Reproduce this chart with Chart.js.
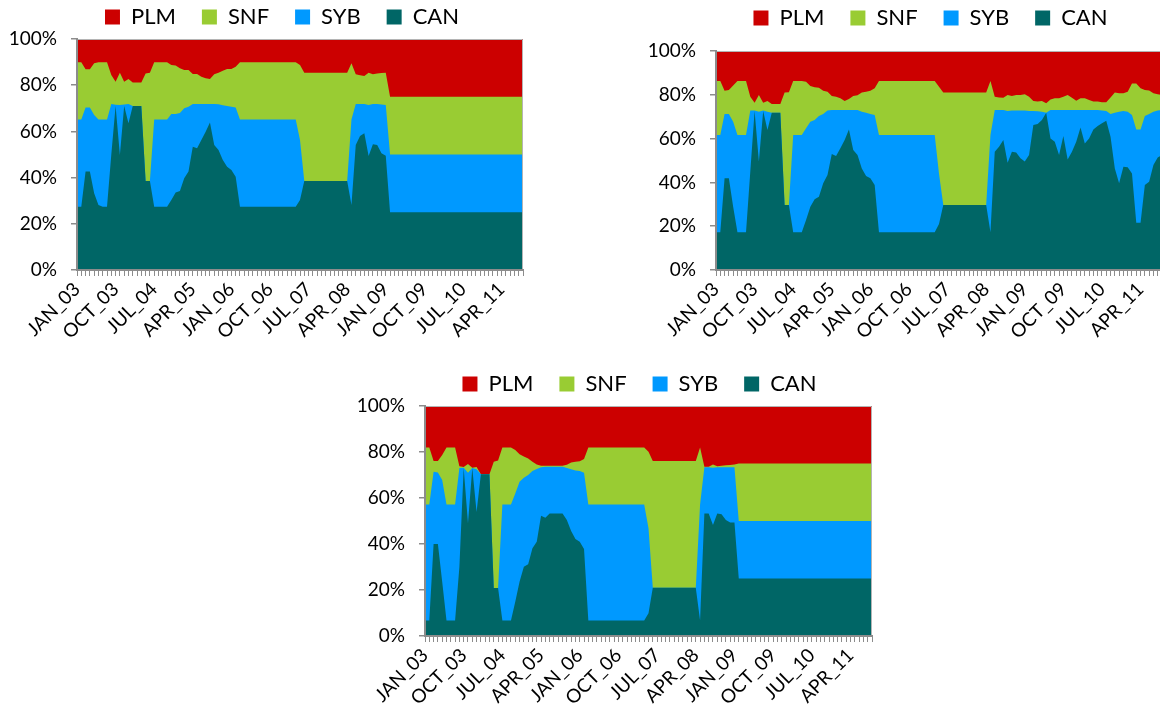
<!DOCTYPE html>
<html>
<head>
<meta charset="utf-8">
<script src="https://cdn.jsdelivr.net/npm/chart.js@4.4.1/dist/chart.umd.min.js"></script>
<style>
html, body { margin: 0; padding: 0; background: #fff; overflow: hidden; width: 1160px; height: 719px; }
.box { position: absolute; }
</style>
</head>
<body>
<div class="box" style="left:0px; top:-20px; width:565px; height:370px;"><canvas id="c1"></canvas></div>
<div class="box" style="left:640px; top:-19px; width:560px; height:369px;"><canvas id="c2"></canvas></div>
<div class="box" style="left:345px; top:347px; width:560px; height:369px;"><canvas id="c3"></canvas></div>
<script>
// Categorias (meses JAN_03 .. SEP_11)
var MONTHS = ['JAN','FEB','MAR','APR','MAY','JUN','JUL','AUG','SEP','OCT','NOV','DEC'];
var YEARS = ['03','04','05','06','07','08','09','10','11'];
var categories = [];
YEARS.forEach(function(y){ MONTHS.forEach(function(m){ categories.push(m + '_' + y); }); });
categories = categories.slice(0, 105);

// Etiquetas visiveis no eixo x
var tickLabels = ['JAN_03','OCT_03','JUL_04','APR_05','JAN_06','OCT_06','JUL_07','APR_08','JAN_09','OCT_09','JUL_10','APR_11'];
var yTicks = [0, 20, 40, 60, 80, 100];

// ---- Grafico 1 (quotas em %) ----
var can1 = [27.4,27.4,42.6,42.6,33.2,28.1,27.4,27.4, 50.0,71.0,49.8,71.0,63.5,71.0,71.0,71.0,
  38.5,38.5,27.4,27.4,27.4,27.4, 30.3,33.6,34.2,39.7,42.6,53.4,52.7,56.3,59.9,63.8,54.1,51.9,47.6,44.7,43.3,40.4,
  27.4,27.4,27.4,27.4,27.4,27.4,27.4,27.4,27.4,27.4,27.4,27.4,27.4,27.4, 30.3,
  38.5,38.5,38.5,38.5,38.5,38.5,38.5,38.5,38.5,38.5,38.5,
  28.1,54.1,58.0,59.2,49.4,54.4,54.1,50.5,49.5,
  25,25,25,25,25,25,25,25,25,25,25,25,25,25,25,25,25,25,25,25,25,25,25,25,25,25,25,25,25,25,25,25];
var syb1 = [37.8,37.8,27.7,27.7,33.9,37.1,37.8,37.8, 21.9,0.5,21.6,0.6,8.4,0,0,0,
  0,0,37.8,37.8,37.8,37.8, 37.2,33.9,33.8,30.3,28.1,18.5,19.2,15.6,12.0,8.1,17.8,19.8,23.7,26.3,27.4,29.9,
  37.8,37.8,37.8,37.8,37.8,37.8,37.8,37.8,37.8,37.8,37.8,37.8,37.8,37.8, 26.0,
  0,0,0,0,0,0,0,0,0,0,0,
  37.1,17.8,13.9,12.7,22.0,17.5,17.8,21.1,21.9,
  25,25,25,25,25,25,25,25,25,25,25,25,25,25,25,25,25,25,25,25,25,25,25,25,25,25,25,25,25,25,25,25];
var snf1 = [24.7,24.7,16.6,16.6,22.4,24.7,24.7,24.7, 12.5,10.0,14.0,9.9,10.8,10.2,10.2,10.2,
  46.6,46.9,24.7,24.7,24.7,24.7, 21.2,21.0,19.3,16.6,15.9,12.9,12.9,11.8,11.1,10.8,12.8,13.7,15.0,16.0,16.3,17.7,
  24.7,24.7,24.7,24.7,24.7,24.7,24.7,24.7,24.7,24.7,24.7,24.7,24.7,24.7, 32.4,
  46.9,46.9,46.9,46.9,46.9,46.9,46.9,46.9,46.9,46.9,46.9,
  24.3,12.8,12.4,12.1,14.0,12.8,13.2,13.7,14.0,
  25,25,25,25,25,25,25,25,25,25,25,25,25,25,25,25,25,25,25,25,25,25,25,25,25,25,25,25,25,25,25,25];
var plm1 = [10.1,10.1,13.1,13.1,10.5,10.1,10.1,10.1, 15.6,18.5,14.6,18.5,17.3,18.8,18.8,18.8,
  14.9,14.6,10.1,10.1,10.1,10.1, 11.3,11.5,12.7,13.4,13.4,15.2,15.2,16.3,17.0,17.3,15.3,14.6,13.7,13.0,13.0,12.0,
  10.1,10.1,10.1,10.1,10.1,10.1,10.1,10.1,10.1,10.1,10.1,10.1,10.1,10.1, 11.3,
  14.6,14.6,14.6,14.6,14.6,14.6,14.6,14.6,14.6,14.6,14.6,
  10.5,15.3,15.7,16.0,14.6,15.3,14.9,14.7,14.6,
  25,25,25,25,25,25,25,25,25,25,25,25,25,25,25,25,25,25,25,25,25,25,25,25,25,25,25,25,25,25,25,25];

// ---- Grafico 2 ----
var can2 = [17.2,17.2,41.9,41.9,28.9,17.2,17.2,17.2, 45.0,72.6,49.5,72.6,63.9,71.8,71.8,71.8,
  29.7,29.7,17.2,17.2,17.2, 22.8,28.9,32.3,33.5,39.6,43.4,53.0,52.1,55.6,59.4,64.2,54.8,52.5,46.4,42.9,41.9,38.8,
  17.2,17.2,17.2,17.2,17.2,17.2,17.2,17.2,17.2,17.2,17.2,17.2,17.2,17.2, 21.0,
  29.7,29.7,29.7,29.7,29.7,29.7,29.7,29.7,29.7,29.7,29.7,
  17.2,54.0,56.3,59.4,49.0,54.0,53.6,51.0,49.5,52.5,66.2,66.7,68.5,71.8,60.1,58.6,52.5,61.2,50.5,54.0,
  58.6,65.1,57.8,60.1,64.2,65.8,67.0,68.2,60.9,46.4,39.6,47.2,46.9,44.1,21.6,21.6,38.8,40.3,47.9,51.4,52.5];
var syb2 = [44.4,44.4,29.3,29.3,38.8,44.4,44.4,44.4, 27.8,0.2,22.8,0.2,8.4,0,0,0,
  0,0,44.4,44.4,44.4, 41.9,38.8,36.2,36.8,31.6,29.4,20.1,21.0,17.5,13.7,8.9,18.3,20.6,25.9,28.9,29.3,32.0,
  44.4,44.4,44.4,44.4,44.4,44.4,44.4,44.4,44.4,44.4,44.4,44.4,44.4,44.4, 23.0,
  0,0,0,0,0,0,0,0,0,0,0,
  44.4,19.1,16.8,13.7,23.6,18.8,19.2,21.8,23.3,20.1,6.4,5.8,3.8,0,13.0,14.5,20.6,11.9,22.6,19.1,
  14.5,8.0,15.3,13.0,8.9,7.3,5.8,4.4,10.3,25.4,32.7,25.4,25.4,26.7,42.6,42.6,31.5,30.9,24.4,21.4,20.6];
var snf2 = [24.7,24.7,10.7,11.0,16.5,24.7,24.7,24.7, 6.3,3.6,7.6,3.6,4.9,4.0,4.0,4.0,
  51.3,51.5,24.7,24.7,24.7, 21.3,16.3,14.9,12.9,10.7,8.6,6.4,6.0,5.3,4.1,5.0,6.4,6.7,8.7,9.6,10.7,12.2,
  24.7,24.7,24.7,24.7,24.7,24.7,24.7,24.7,24.7,24.7,24.7,24.7,24.7,24.7, 39.7,
  51.3,51.3,51.3,51.3,51.3,51.3,51.3,51.3,51.3,51.3,51.3,
  24.7,6.0,5.7,5.6,7.3,6.7,7.1,7.1,7.4,6.5,4.6,4.4,4.9,4.3,4.8,5.3,5.3,6.0,6.8,5.6,
  4.2,5.3,5.3,4.5,3.8,3.8,3.8,4.0,7.6,9.2,8.4,8.1,9.1,14.4,21.0,18.8,11.9,10.8,8.4,7.4,6.8];
var plm2 = [13.7,13.7,18.1,17.8,15.8,13.7,13.7,13.7, 20.9,23.6,20.1,23.6,22.8,24.2,24.2,24.2,
  19.0,18.8,13.7,13.7,13.7, 14.0,16.0,16.6,16.8,18.1,18.6,20.5,20.9,21.6,22.8,21.9,20.5,20.2,19.0,18.6,18.1,17.0,
  13.7,13.7,13.7,13.7,13.7,13.7,13.7,13.7,13.7,13.7,13.7,13.7,13.7,13.7, 16.3,
  19.0,19.0,19.0,19.0,19.0,19.0,19.0,19.0,19.0,19.0,19.0,
  13.7,20.9,21.2,21.3,20.1,20.5,20.1,20.1,19.8,20.9,22.8,23.1,22.8,23.9,22.1,21.6,21.6,20.9,20.1,21.3,
  22.7,21.6,21.6,22.4,23.1,23.1,23.4,23.4,21.2,19.0,19.3,19.3,18.6,14.8,14.8,17.0,17.8,18.0,19.3,19.8,20.1];

// ---- Grafico 3 ----
var can3 = [6.7,6.7,40.0,40.0,23.6,6.7,6.7,6.7, 30.0,73.0,49.0,72.9,53.9,70.3,70.3,70.3,
  20.9,20.9,6.7,6.7,6.7, 14.9,23.6,30.1,31.2,38.1,41.0,52.3,51.4,53.3,53.3,53.3,53.3,50.4,45.7,42.2,41.0,37.8,
  6.7,6.7,6.7,6.7,6.7,6.7,6.7,6.7,6.7,6.7,6.7,6.7,6.7,6.7, 9.9,
  21.0,21.0,21.0,21.0,21.0,21.0,21.0,21.0,21.0,21.0,21.0,
  6.7,53.3,53.3,48.3,53.3,52.9,50.4,49.4,49.4,
  25,25,25,25,25,25,25,25,25,25,25,25,25,25,25,25,25,25,25,25,25,25,25,25,25,25,25,25,25,25,25,25];
var syb3 = [50.5,50.5,31.4,31.1,44.2,50.5,50.5,50.5, 43.0,0.2,22.0,0.1,18.6,0,0,0,
  0,0,50.5,50.5,50.5, 47.1,43.5,38.7,38.8,33.6,31.6,21.1,22.2,20.3,20.3,20.3,20.3,22.6,26.8,29.8,30.7,33.2,
  50.5,50.5,50.5,50.5,50.5,50.5,50.5,50.5,50.5,50.5,50.5,50.5,50.5,50.5, 36.9,
  0,0,0,0,0,0,0,0,0,0,0,
  50.5,20.1,20.1,24.9,20.1,20.5,23.0,24.0,24.0,
  25,25,25,25,25,25,25,25,25,25,25,25,25,25,25,25,25,25,25,25,25,25,25,25,25,25,25,25,25,25,25,25];
var snf3 = [24.8,24.8,4.7,5.0,10.9,24.8,24.8,24.8, 0.8,0.3,3.8,0.2,1.0,0,0,0,
  54.9,55.4,24.8,24.8,24.8, 18.9,11.9,9.2,7.2,4.1,2.0,0.6,0.4,0.4,0.4,0.4,0.4,1.5,2.9,3.8,4.3,6.0,
  24.8,24.8,24.8,24.8,24.8,24.8,24.8,24.8,24.8,24.8,24.8,24.8,24.8,24.8, 33.3,
  55.1,55.1,55.1,55.1,55.1,55.1,55.1,55.1,55.1,55.1,55.1,
  24.8,0.2,0.2,1.4,0.4,0.6,0.8,0.9,1.2,
  25,25,25,25,25,25,25,25,25,25,25,25,25,25,25,25,25,25,25,25,25,25,25,25,25,25,25,25,25,25,25,25];
var plm3 = [18.0,18.0,23.9,23.9,21.3,18.0,18.0,18.0, 26.2,26.5,25.2,26.8,26.5,29.7,29.7,29.7,
  24.2,23.7,18.0,18.0,18.0, 19.1,21.0,22.0,22.8,24.2,25.4,26.0,26.0,26.0,26.0,26.0,26.0,25.5,24.6,24.2,24.0,23.0,
  18.0,18.0,18.0,18.0,18.0,18.0,18.0,18.0,18.0,18.0,18.0,18.0,18.0,18.0, 19.9,
  23.9,23.9,23.9,23.9,23.9,23.9,23.9,23.9,23.9,23.9,23.9,
  18.0,26.4,26.4,25.4,26.2,26.0,25.8,25.7,25.4,
  25,25,25,25,25,25,25,25,25,25,25,25,25,25,25,25,25,25,25,25,25,25,25,25,25,25,25,25,25,25,25,25];

// Cores
var cores = { PLM: '#cc0000', SNF: '#99cc33', SYB: '#0099ff', CAN: '#006666' };
var cinza = '#8c8c8c';

Chart.defaults.font.family = 'Lato';
Chart.defaults.color = '#000';

// moldura fina no topo e a direita da area do grafico
var moldura = {
  id: 'moldura',
  afterDatasetsDraw: function(chart) {
    var a = chart.chartArea, ctx = chart.ctx;
    ctx.save();
    ctx.strokeStyle = '#b4b4b4';
    ctx.lineWidth = 1;
    ctx.beginPath();
    ctx.moveTo(a.left, a.top + 0.5);
    ctx.lineTo(a.right - 0.5, a.top + 0.5);
    ctx.lineTo(a.right - 0.5, a.bottom);
    ctx.stroke();
    ctx.restore();
  }
};

// desloca a legenda (centrada no grafico todo, como no Excel)
var desvioLegenda = {
  id: 'desvioLegenda',
  afterLayout: function(chart, args, opts) {
    var lg = chart.legend;
    if (!lg) return;
    var dx = opts.dx || 0, dy = opts.dy || 0;
    lg.left += dx; lg.right += dx;
    lg.top += dy; lg.bottom += dy;
  }
};

function serie(nome, dados) {
  return {
    label: nome, data: dados,
    backgroundColor: cores[nome], borderColor: 'transparent', borderWidth: 0,
    fill: 'origin', pointRadius: 0, tension: 0
  };
}

function grafico(id, can, syb, snf, plm, cfg) {
  return new Chart(document.getElementById(id), {
    type: 'line',
    data: {
      labels: categories,
      datasets: [serie('CAN', can), serie('SYB', syb), serie('SNF', snf), serie('PLM', plm)]
    },
    options: {
      responsive: true, maintainAspectRatio: false, animation: false, devicePixelRatio: 1,
      events: [],
      layout: { padding: { left: cfg.padL, right: cfg.padR, top: cfg.padT, bottom: 0 } },
      plugins: {
        tooltip: { enabled: false },
        desvioLegenda: { dx: cfg.dx, dy: -cfg.padT },
        legend: {
          position: 'top', reverse: true,
          labels: { boxWidth: 15, boxHeight: 15, padding: 26, color: '#000', font: { size: 22 } }
        }
      },
      scales: {
        x: {
          ticks: {
            autoSkip: false, minRotation: 45, maxRotation: 45, padding: 2,
            font: { size: 19 }, color: '#000',
            callback: function(v, i) { var c = categories[i]; return tickLabels.indexOf(c) >= 0 ? c : ''; }
          },
          grid: { drawOnChartArea: false, tickLength: 6, color: cinza, lineWidth: 1 },
          border: { color: cinza, width: 2, z: 1 },
          afterFit: function(s) { s.height = 80; }
        },
        y: {
          stacked: true, min: 0, max: 100,
          afterBuildTicks: function(s) { s.ticks = yTicks.map(function(v){ return { value: v }; }); },
          ticks: { padding: 14, font: { size: 19 }, color: '#000', callback: function(v) { return v + '%'; } },
          grid: { drawOnChartArea: false, tickLength: 6, color: cinza, lineWidth: 1.5 },
          border: { color: cinza, width: 2, z: 1 },
          afterFit: function(s) { s.width = cfg.yW; }
        }
      }
    },
    plugins: [moldura, desvioLegenda]
  });
}

grafico('c1', can1, syb1, snf1, plm1, { padL: 5, padR: 42, padT: 1, yW: 72, dx: 18 });
grafico('c2', can2, syb2, snf2, plm2, { padL: 3, padR: 38, padT: 12, yW: 73, dx: 28 });
grafico('c3', can3, syb3, snf3, plm3, { padL: 8, padR: 33, padT: 1, yW: 72, dx: 27 });
</script>
</body>
</html>
